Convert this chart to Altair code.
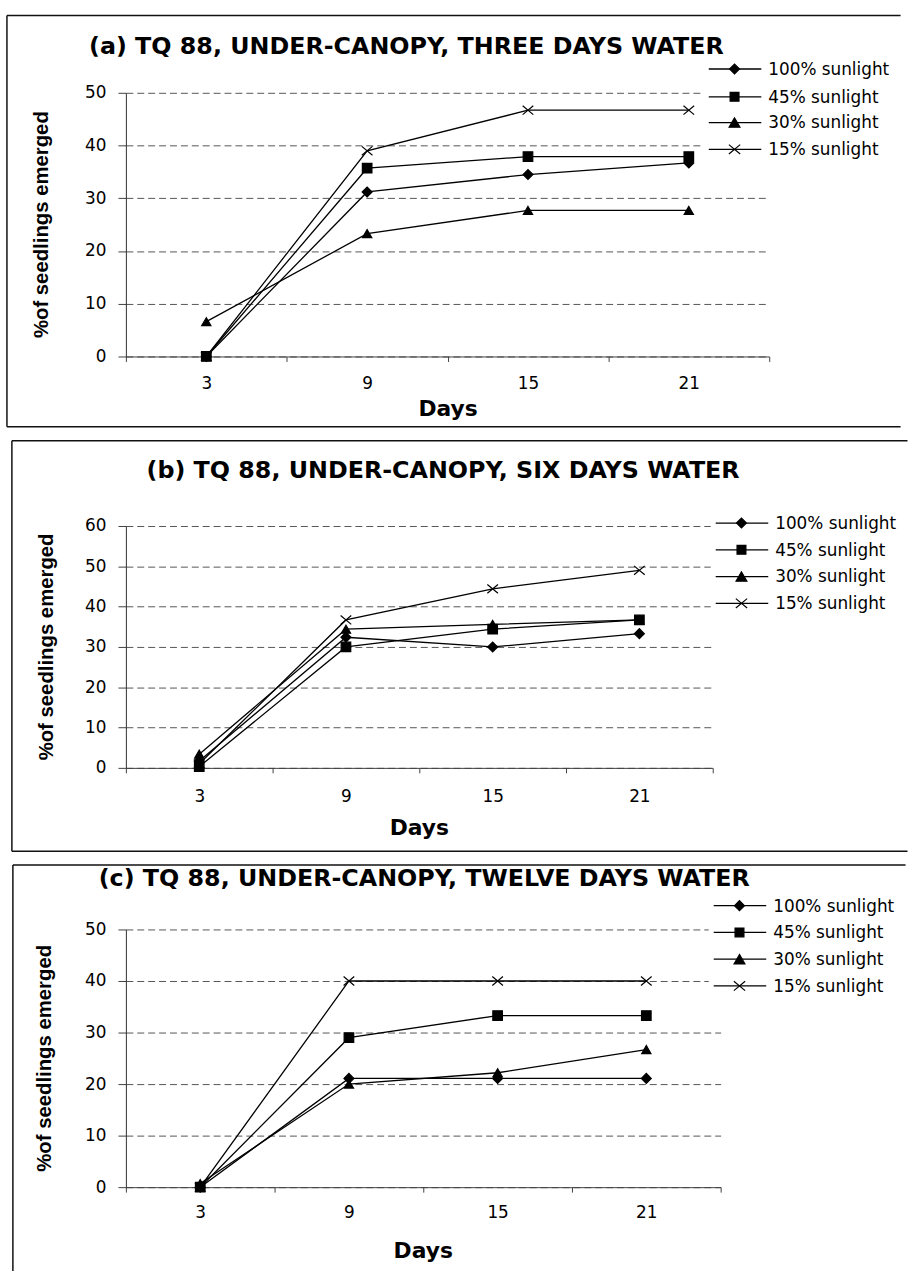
import altair as alt
import pandas as pd

# ---------------- data ----------------
days = [3, 9, 15, 21]
series = ["100% sunlight", "45% sunlight", "30% sunlight", "15% sunlight"]

a_100 = [0.0, 31.2, 34.5, 36.7]
a_45 = [0.0, 35.7, 37.9, 37.9]
a_30 = [6.6, 23.3, 27.7, 27.7]
a_15 = [0.0, 39.0, 46.7, 46.7]

b_100 = [1.7, 32.4, 30.0, 33.3]
b_45 = [0.3, 30.0, 34.4, 36.7]
b_30 = [3.4, 34.4, 35.6, 36.7]
b_15 = [1.0, 36.7, 44.4, 49.0]

c_100 = [0.0, 21.1, 21.1, 21.1]
c_45 = [0.0, 29.0, 33.3, 33.3]
c_30 = [0.7, 20.0, 22.2, 26.7]
c_15 = [0.0, 40.0, 40.0, 40.0]

titles = [
    "(a) TQ 88, UNDER-CANOPY, THREE DAYS WATER",
    "(b) TQ 88, UNDER-CANOPY, SIX DAYS WATER",
    "(c) TQ 88, UNDER-CANOPY, TWELVE DAYS WATER",
]
y_max = [50, 60, 50]
y_title = "%of seedlings emerged"
x_title = "Days"

# ---------------- styling / layout ----------------
XPATH = "M-1.2,-1L1.2,1M-1.2,1L1.2,-1"
shapes = ["diamond", "square", "triangle-up", XPATH]
sizes = [100, 80, 120, 90]
FONT = "DejaVu Sans"
PAGE_W = 909

P = [
    dict(left=127, top=88, w=649, h=266, page_top=0, page_bot=432,
         frame_left=7, frame_top=10, frame_bot=425, title_c=(410, 40.5),
         leg_rows=[64, 92, 118, 145], leg_box=(50, 160), lab_pad=14.8,
         days=(452, 406), ytitle=(42, 221)),
    dict(left=120, top=525, w=592, h=244, page_top=432, page_bot=860,
         frame_left=5, frame_top=439, frame_bot=853, title_c=(440, 468),
         leg_rows=[522, 549, 576, 603], leg_box=(508, 616), lab_pad=15.8,
         days=(416, 828), ytitle=(40, 647)),
    dict(left=122, top=932, w=600, h=260, page_top=860, page_bot=1277,
         frame_left=8, frame_top=867, frame_bot=None, title_c=(423, 880),
         leg_rows=[908, 935, 962, 989], leg_box=(895, 1002), lab_pad=12.8,
         days=(422, 1255), ytitle=(40, 1062)),
]

dummy = pd.DataFrame({"k": [0]})
BOUND = "white"


def hrule(x1, x2, y, color="#111111", sw=1.5):
    return alt.Chart(dummy).mark_rule(color=color, strokeWidth=sw).encode(
        x=alt.value(x1), x2=alt.value(x2), y=alt.value(y))


def vrule(x, y1, y2, color="#111111", sw=1.5):
    return alt.Chart(dummy).mark_rule(color=color, strokeWidth=sw).encode(
        x=alt.value(x), y=alt.value(y1), y2=alt.value(y2))


def text(x, y, s, size, bold=False, align="center", angle=0, font=FONT):
    kw = dict(fontSize=size, font=font, align=align, baseline="middle",
              color="black", fontWeight="bold" if bold else "normal")
    if angle:
        kw["angle"] = angle
    return alt.Chart(dummy).mark_text(**kw).encode(
        x=alt.value(x), y=alt.value(y), text=alt.value(s))


def panel(i, vals):
    g = P[i]
    L, T, W, H = g["left"], g["top"], g["w"], g["h"]
    rows = []
    for s, v in zip(series, vals):
        for d, y in zip(days, v):
            rows.append({"day": d, "pct": y, "series": s})
    df = pd.DataFrame(rows)

    xax = alt.Axis(
        values=list(range(0, 25, 3)),
        labelExpr="datum.value % 6 == 3 ? datum.label : ''",
        tickOpacity={"condition": {"test": "datum.value % 6 === 0", "value": 1}, "value": 0},
        tickSize=5, tickColor="#404040", domainColor="#404040", domainWidth=1,
        labelPadding=g["lab_pad"], labelFont=FONT, labelFontSize=17, labelColor="black",
        labelFlush=False, labelOverlap=False, labelBaseline="top", grid=False, title=None)
    yax = alt.Axis(
        values=list(range(0, y_max[i] + 1, 10)), grid=True, gridDash=[7, 4],
        gridColor="#555555", gridWidth=1, tickSize=8, tickColor="#404040",
        domainColor="#303030", domainWidth=1, labelPadding=12, labelFont=FONT,
        labelFontSize=17, labelColor="black", title=None)
    xenc = alt.X("day:Q", scale=alt.Scale(domain=[0, 24], nice=False, zero=False), axis=xax)
    yenc = alt.Y("pct:Q", scale=alt.Scale(domain=[0, y_max[i]], nice=False), axis=yax)

    layers = []
    # invisible rules fixing each panel's extent on the page
    x0, x1 = -L, PAGE_W - L
    y0, y1 = g["page_top"] - T, g["page_bot"] - T
    layers.append(vrule(x0 + 0.5, y0 + 0.5, y1 - 0.5, color=BOUND, sw=1))
    layers.append(hrule(x0 + 0.5, x1 - 0.5, y0 + 0.5, color=BOUND, sw=1))
    layers.append(hrule(x0 + 0.5, x1 - 0.5, y1 - 0.5, color=BOUND, sw=1))
    # frame
    fl, ft = g["frame_left"] - L, g["frame_top"] - T
    fb = (g["frame_bot"] - T) if g["frame_bot"] is not None else y1 - 0.5
    layers.append(hrule(fl, x1 - 0.5, ft))
    layers.append(vrule(fl, ft, fb))
    if g["frame_bot"] is not None:
        layers.append(hrule(fl, x1 - 0.5, fb))
    # legend background box
    lb0, lb1 = g["leg_box"]
    layers.append(alt.Chart(dummy).mark_rect(color="white").encode(
        x=alt.value(710 - L), x2=alt.value(x1 - 1), y=alt.value(lb0 - T), y2=alt.value(lb1 - T)))
    # series
    base = alt.Chart(df)
    layers.append(base.mark_line(color="black", strokeWidth=1.3).encode(
        x=xenc, y=yenc, detail="series:N"))
    layers.append(base.mark_point(fill="black", stroke="black", strokeWidth=1.2, opacity=1).encode(
        x=xenc, y=yenc,
        shape=alt.Shape("series:N", scale=alt.Scale(domain=series, range=shapes), legend=None),
        size=alt.Size("series:N", scale=alt.Scale(domain=series, range=sizes), legend=None)))
    # legend
    for k, s in enumerate(series):
        ly = g["leg_rows"][k] - T
        layers.append(hrule(715 - L, 768 - L, ly, color="black", sw=1.3))
        layers.append(alt.Chart(pd.DataFrame({"s": [s]})).mark_point(
            fill="black", stroke="black", strokeWidth=1.2, opacity=1,
            shape=shapes[k], size=sizes[k]).encode(x=alt.value(741 - L), y=alt.value(ly)))
        layers.append(alt.Chart(pd.DataFrame({"s": [s]})).mark_text(
            fontSize=17, font=FONT, align="left", baseline="middle", color="black").encode(
            x=alt.value(775 - L), y=alt.value(ly + 1), text="s:N"))
    # texts
    tx, ty = g["title_c"]
    layers.append(text(tx - L, ty - T + 1.6, titles[i], 24, bold=True))
    dx, dy = g["days"]
    layers.append(text(dx - L, dy - T + 1.4, x_title, 22, bold=True))
    yx, yy = g["ytitle"]
    layers.append(text(yx - L, yy - T, y_title, 20.5, bold=True, angle=270, font="Liberation Sans"))

    return alt.layer(*layers).properties(width=W, height=H)


chart = alt.vconcat(
    panel(0, [a_100, a_45, a_30, a_15]),
    panel(1, [b_100, b_45, b_30, b_15]),
    panel(2, [c_100, c_45, c_30, c_15]),
    spacing=0,
).configure_view(stroke=None).properties(padding=0, background="white")

chart.save("out.html", embed_options={"renderer": "svg", "actions": False})
